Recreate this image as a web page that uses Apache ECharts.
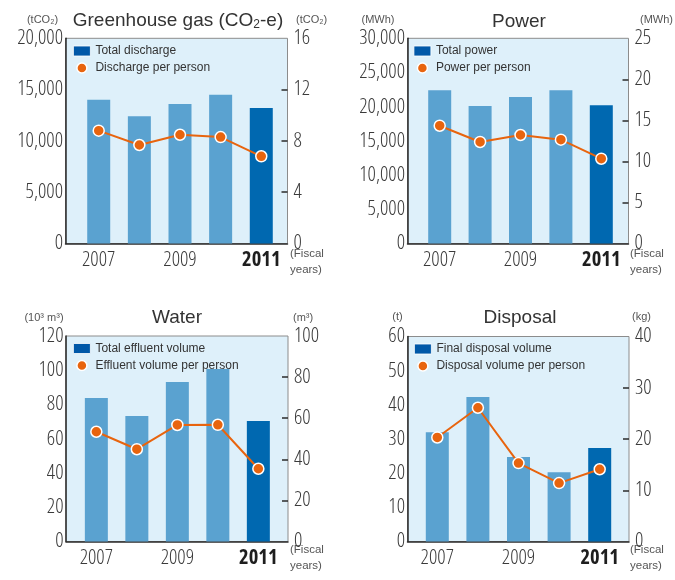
<!DOCTYPE html>
<html>
<head>
<meta charset="utf-8">
<style>
  html, body { margin: 0; padding: 0; background: #ffffff; }
  #chart { width: 675px; height: 580px; }
</style>
<script src="https://cdn.jsdelivr.net/npm/echarts@6/dist/echarts.min.js"></script>
</head>
<body>
<div id="chart"></div>
<script>
// Fiscal years shown on every panel
const years = ['2007', '2008', '2009', '2010', '2011'];

// Greenhouse gas (tCO2)
const ghgTotal = [14000, 12400, 13600, 14500, 13200];
const ghgPerPerson = [8.80, 7.68, 8.48, 8.30, 6.80];
const ghgLeftAxis = [0, 20000, 5000];   // min, max, interval
const ghgRightAxis = [0, 16, 4];

// Power (MWh)
const powerTotal = [22400, 20100, 21400, 22400, 20200];
const powerPerPerson = [14.35, 12.37, 13.22, 12.65, 10.33];
const powerLeftAxis = [0, 30000, 5000];
const powerRightAxis = [0, 25, 5];

// Water (10^3 m3 / m3)
const waterTotal = [83.8, 73.3, 93.1, 100.7, 70.4];
const waterPerPerson = [53.4, 44.9, 56.7, 56.8, 35.4];
const waterLeftAxis = [0, 120, 20];
const waterRightAxis = [0, 100, 20];

// Disposal (t / kg)
const disposalTotal = [32.0, 42.3, 24.7, 20.3, 27.4];
const disposalPerPerson = [20.3, 26.1, 15.3, 11.4, 14.1];
const disposalLeftAxis = [0, 60, 10];
const disposalRightAxis = [0, 40, 10];

const W = 675, H = 580;
const LIGHT_BAR = '#5aa2d0';
const DARK_BAR = '#0068b0';
const ORANGE = '#e8640e';
const PANEL_BG = '#def0fa';
const SANS = '"Liberation Sans", Arial, sans-serif';
// axis numbers use a condensed cut of Open Sans
const NUM = '"Open Sans", "Liberation Sans", sans-serif';
const NUM_WEIGHT = '300 condensed';
const NUM_BOLD = '700 condensed';
const NUM_SIZE = 20.5;

const panels = [
  {
    title: 'Greenhouse gas (CO{s|2}-e)', titlePos: [178, 21],
    unitL: '(tCO₂)', unitLPos: [42.5, 20], unitR: '(tCO₂)', unitRPos: [296, 20],
    fiscalPos: [290, 262],
    box: [65.5, 38.3, 287.5, 243.5], plot: [78.4, 281.6],
    legendPos: [73, 45],
    barName: 'Total discharge', lineName: 'Discharge per person',
    bars: ghgTotal, line: ghgPerPerson, left: ghgLeftAxis, right: ghgRightAxis, comma: true
  },
  {
    title: 'Power', titlePos: [519, 22],
    unitL: '(MWh)', unitLPos: [378, 20], unitR: '(MWh)', unitRPos: [640, 20],
    fiscalPos: [630, 262],
    box: [407.5, 38.3, 628.5, 243.5], plot: [419.5, 621.5],
    legendPos: [413.5, 45],
    barName: 'Total power', lineName: 'Power per person',
    bars: powerTotal, line: powerPerPerson, left: powerLeftAxis, right: powerRightAxis, comma: true
  },
  {
    title: 'Water', titlePos: [177, 318],
    unitL: '(10³ m³)', unitLPos: [44, 318], unitR: '(m³)', unitRPos: [293, 318],
    fiscalPos: [290, 558],
    box: [66, 336, 288, 541.5], plot: [76.1, 278.6],
    legendPos: [73, 342.5],
    barName: 'Total effluent volume', lineName: 'Effluent volume per person',
    bars: waterTotal, line: waterPerPerson, left: waterLeftAxis, right: waterRightAxis, comma: false
  },
  {
    title: 'Disposal', titlePos: [520, 318],
    unitL: '(t)', unitLPos: [397.5, 317], unitR: '(kg)', unitRPos: [632, 317],
    fiscalPos: [630, 558],
    box: [407.5, 336.5, 629, 541.5], plot: [417, 620],
    legendPos: [414, 343],
    barName: 'Final disposal volume', lineName: 'Disposal volume per person',
    bars: disposalTotal, line: disposalPerPerson, left: disposalLeftAxis, right: disposalRightAxis, comma: false
  }
];

const grid = [], xAxis = [], yAxis = [], series = [], legend = [], graphic = [];

// tick marks between the first and last value of an axis
function innerTicks(axis) {
  const out = [];
  for (let v = axis[0] + axis[2]; v < axis[1] - 1e-9; v += axis[2]) out.push(v);
  return out;
}

panels.forEach((p, i) => {
  const [bx0, by0, bx1, by1] = p.box;
  const [px0, px1] = p.plot;
  const gBg = 2 * i, gData = 2 * i + 1;

  // framed light-blue plot box
  grid.push({
    left: bx0, right: W - bx1, top: by0, bottom: H - by1,
    show: true, backgroundColor: PANEL_BG, borderColor: '#8c8c8c', borderWidth: 1
  });
  // area holding the bars and the line
  grid.push({ left: px0, right: W - px1, top: by0, bottom: H - by1 });

  xAxis.push({
    gridIndex: gBg, type: 'value', min: 0, max: 1, position: 'bottom',
    axisLine: { show: true, lineStyle: { color: '#2b2b2b', width: 1.5 } },
    axisTick: { show: false }, axisLabel: { show: false }, splitLine: { show: false }
  });
  xAxis.push({
    gridIndex: gData, type: 'category', data: years,
    axisLine: { show: false }, axisTick: { show: false },
    axisLabel: {
      interval: 1, margin: 6, fontFamily: NUM, fontWeight: NUM_WEIGHT, fontSize: NUM_SIZE, color: '#3a3a3a',
      formatter: v => (v === '2011' ? '{b|' + v + '}' : v),
      rich: { b: { fontFamily: NUM, fontSize: NUM_SIZE, fontWeight: NUM_BOLD, color: '#1e1e1e' } }
    }
  });

  yAxis.push({
    gridIndex: gBg, type: 'value', min: 0, max: 1, position: 'left',
    axisLine: { show: true, lineStyle: { color: '#2b2b2b', width: 1.5 } },
    axisTick: { show: false }, axisLabel: { show: false }, splitLine: { show: false }
  });
  yAxis.push({
    gridIndex: gData, type: 'value', position: 'left', offset: px0 - bx0,
    min: p.left[0], max: p.left[1], interval: p.left[2],
    axisLine: { show: false }, axisTick: { show: false }, splitLine: { show: false },
    axisLabel: {
      margin: 2.5, fontFamily: NUM, fontWeight: NUM_WEIGHT, fontSize: NUM_SIZE, color: '#3a3a3a',
      formatter: v => (p.comma ? v.toLocaleString('en-US') : String(v))
    }
  });
  yAxis.push({
    gridIndex: gData, type: 'value', position: 'right', offset: bx1 - px1,
    min: p.right[0], max: p.right[1], interval: p.right[2],
    axisLine: { show: false }, splitLine: { show: false },
    axisTick: { show: true, inside: true, length: 6, customValues: innerTicks(p.right),
                lineStyle: { color: '#2b2b2b', width: 1.5 } },
    axisLabel: { margin: 6, fontFamily: NUM, fontWeight: NUM_WEIGHT, fontSize: NUM_SIZE, color: '#3a3a3a' }
  });

  series.push({
    name: p.barName, type: 'bar', xAxisIndex: gData, yAxisIndex: 3 * i + 1,
    barWidth: 23, itemStyle: { color: DARK_BAR },
    data: p.bars.map((v, k) => ({
      value: v, itemStyle: { color: k === p.bars.length - 1 ? DARK_BAR : LIGHT_BAR }
    })),
    z: 2
  });
  series.push({
    name: p.lineName, type: 'line', xAxisIndex: gData, yAxisIndex: 3 * i + 2,
    data: p.line, symbol: 'circle', symbolSize: 11,
    lineStyle: { color: ORANGE, width: 2 },
    itemStyle: { color: ORANGE, borderColor: '#ffffff', borderWidth: 1.5 },
    z: 3
  });

  legend.push({
    orient: 'vertical', left: p.legendPos[0], top: p.legendPos[1], padding: 0,
    itemWidth: 17, itemHeight: 10, itemGap: 5,
    textStyle: { fontFamily: SANS, fontSize: 12, color: '#333' },
    data: [
      { name: p.barName, icon: 'rect', itemStyle: { color: '#0058a8', borderColor: '#ffffff', borderWidth: 0.8 } },
      { name: p.lineName, icon: 'circle', itemStyle: { color: ORANGE, borderColor: '#ffffff', borderWidth: 1.5 } }
    ]
  });

  graphic.push({
    type: 'text', x: p.titlePos[0], y: p.titlePos[1], silent: true,
    style: {
      text: p.title, font: '19px ' + SANS, fill: '#333', align: 'center', verticalAlign: 'middle',
      rich: { s: { fontSize: 12, fontFamily: SANS, fill: '#333', padding: [8, 0, 0, 0] } }
    }
  });
  graphic.push({
    type: 'text', x: p.unitLPos[0], y: p.unitLPos[1], silent: true,
    style: { text: p.unitL, font: '11px ' + SANS, fill: '#555', align: 'center', verticalAlign: 'middle' }
  });
  graphic.push({
    type: 'text', x: p.unitRPos[0], y: p.unitRPos[1], silent: true,
    style: { text: p.unitR, font: '11px ' + SANS, fill: '#555', align: 'left', verticalAlign: 'middle' }
  });
  graphic.push({
    type: 'text', x: p.fiscalPos[0], y: p.fiscalPos[1], silent: true,
    style: { text: '(Fiscal\nyears)', font: '11.5px ' + SANS, fill: '#555', lineHeight: 16,
             align: 'left', verticalAlign: 'middle' }
  });
});

const chart = echarts.init(document.getElementById('chart'), null, { renderer: 'canvas' });
chart.setOption({
  backgroundColor: '#ffffff',
  animation: false,
  grid, xAxis, yAxis, series, legend, graphic
});
</script>
</body>
</html>
